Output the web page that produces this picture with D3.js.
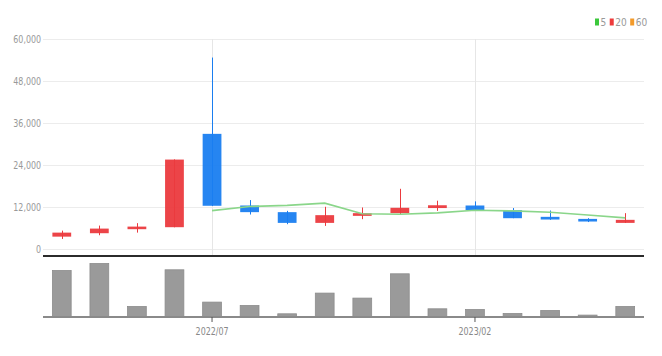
<!DOCTYPE html>
<html><head><meta charset="utf-8">
<script src="https://cdn.jsdelivr.net/npm/d3@7"></script>
<style>
html,body{margin:0;padding:0;background:#fff;}
svg{display:block;}
text{font-family:"Liberation Sans Narrow","DejaVu Sans Condensed","Liberation Sans",sans-serif;}
</style></head>
<body>
<svg id="chart" width="662" height="356"></svg>
<script>
const months = ["2022/03","2022/04","2022/05","2022/06","2022/07","2022/08","2022/09","2022/10","2022/11","2022/12","2023/01","2023/02","2023/03","2023/04","2023/05","2023/06"];
const openV  = [3530, 4510, 5660, 6230, 32900, 12430, 10530, 7460, 9470, 10240, 11700, 12430, 11100, 9190, 8600, 7460];
const closeV = [4680, 5830, 6400, 25550, 12350, 10530, 7460, 9670, 10240, 11770, 12500, 11100, 8800, 8420, 7850, 8330];
const highV  = [5250, 6690, 7380, 25600, 54700, 13980, 10900, 12060, 11860, 17200, 13800, 13600, 11700, 11000, 8800, 10240];
const lowV   = [2870, 3930, 4680, 6200, 12300, 9850, 7090, 6600, 8520, 9850, 10900, 10900, 8800, 8330, 7700, 7460];
const ma5    = [null, null, null, null, 10970, 12130, 12460, 13110, 10050, 9930, 10330, 11060, 10880, 10520, 9730, 8900];
const volume = [4600, 5300, 1000, 4670, 1440, 1100, 270, 2340, 1840, 4270, 770, 700, 300, 600, 140, 1000];
const yTicks = [0, 12000, 24000, 36000, 48000, 60000];
const xTickLabels = ["2022/07", "2023/02"];
const legendItems = [{label:"5", color:"#3cc83c"}, {label:"20", color:"#ee3b3b"}, {label:"60", color:"#f39a2a"}];

const svg = d3.select("#chart");
const UP = "#eb3a3e", DOWN = "#1a7ef0";
const FONT = '"Liberation Sans Narrow","DejaVu Sans Condensed",sans-serif';

const x = d3.scaleBand().domain(months).range([43, 644]).paddingInner(0.5).paddingOuter(0.25);
const y = d3.scaleLinear().domain([0, 60000]).range([249, 39]);
const yv = d3.scaleLinear().domain([0, 6000]).range([316.5, 256.5]);
const cx = m => x(m) + x.bandwidth() / 2;

// horizontal grid
svg.append("g").selectAll("line").data(yTicks).join("line")
  .attr("x1", 43).attr("x2", 644)
  .attr("y1", d => Math.round(y(d)) + 0.5).attr("y2", d => Math.round(y(d)) + 0.5)
  .attr("stroke", "#ececec").attr("stroke-width", 1.2);

// vertical grid
svg.append("g").selectAll("line").data(xTickLabels).join("line")
  .attr("x1", d => Math.round(cx(d)) + 0.5).attr("x2", d => Math.round(cx(d)) + 0.5)
  .attr("y1", 39).attr("y2", 255)
  .attr("stroke", "#e6e6e6").attr("stroke-width", 1);

// y axis labels
const yAxis = d3.axisLeft(y).tickValues(yTicks).tickSize(0).tickPadding(0).tickFormat(d3.format(","));
const ya = svg.append("g").attr("transform", "translate(41,0)").call(yAxis);
ya.select(".domain").remove();
ya.selectAll("text").attr("fill", "#999").attr("font-size", 11)
  .attr("font-family", FONT).attr("transform", "scale(0.8,1)");

// wicks
const idx = d3.range(months.length);
svg.append("g").selectAll("line").data(idx).join("line")
  .attr("x1", i => Math.round(cx(months[i])) + 0.5).attr("x2", i => Math.round(cx(months[i])) + 0.5)
  .attr("y1", i => y(highV[i])).attr("y2", i => y(lowV[i]))
  .attr("stroke", i => closeV[i] >= openV[i] ? UP : DOWN).attr("stroke-width", 1);

// bodies
svg.append("g").selectAll("rect").data(idx).join("rect")
  .attr("x", i => x(months[i]))
  .attr("width", x.bandwidth())
  .attr("y", i => y(Math.max(openV[i], closeV[i])))
  .attr("height", i => Math.max(1, y(Math.min(openV[i], closeV[i])) - y(Math.max(openV[i], closeV[i]))))
  .attr("fill", i => closeV[i] >= openV[i] ? UP : DOWN)
  .attr("fill-opacity", 0.95);

// MA5 line
const line = d3.line().defined(d => d.v != null).x(d => cx(d.m)).y(d => y(d.v));
svg.append("path").datum(months.map((m, i) => ({m, v: ma5[i]})))
  .attr("d", line).attr("fill", "none").attr("stroke", "#8ad68a").attr("stroke-width", 1.6);

// separator line
svg.append("line").attr("x1", 43).attr("x2", 644).attr("y1", 256).attr("y2", 256)
  .attr("stroke", "#2b2b2b").attr("stroke-width", 2);

// volume bars
svg.append("g").selectAll("rect").data(idx).join("rect")
  .attr("x", i => x(months[i]))
  .attr("width", x.bandwidth())
  .attr("y", i => yv(volume[i]))
  .attr("height", i => yv(0) - yv(volume[i]))
  .attr("fill", "#9a9a9a").attr("stroke", "#8c8c8c").attr("stroke-width", 0.8);

// volume baseline
svg.append("line").attr("x1", 43).attr("x2", 644).attr("y1", 317).attr("y2", 317)
  .attr("stroke", "#8a8a8a").attr("stroke-width", 2);

// x axis ticks/labels
const xAxis = d3.axisBottom(x).tickValues(xTickLabels).tickSize(5).tickPadding(5);
const xa = svg.append("g").attr("transform", "translate(0,317)").call(xAxis);
xa.select(".domain").remove();
xa.selectAll(".tick line").attr("stroke", "#555").attr("stroke-width", 1);
xa.selectAll("text").attr("fill", "#888").attr("font-size", 11)
  .attr("font-family", FONT).attr("transform", "scale(0.8,1)");

// legend
const lg = svg.append("g").attr("transform", "translate(595,22)");
let lx = 0;
legendItems.forEach(it => {
  lg.append("rect").attr("x", lx).attr("y", -3.5).attr("width", 4).attr("height", 7).attr("fill", it.color);
  const t = lg.append("text").attr("x", lx + 5.5).attr("y", 3.5).attr("font-size", 10).attr("fill", "#999")
    .attr("font-family", FONT).text(it.label);
  lx += 5.5 + t.node().getComputedTextLength() + 3.5;
});
</script>
</body></html>
